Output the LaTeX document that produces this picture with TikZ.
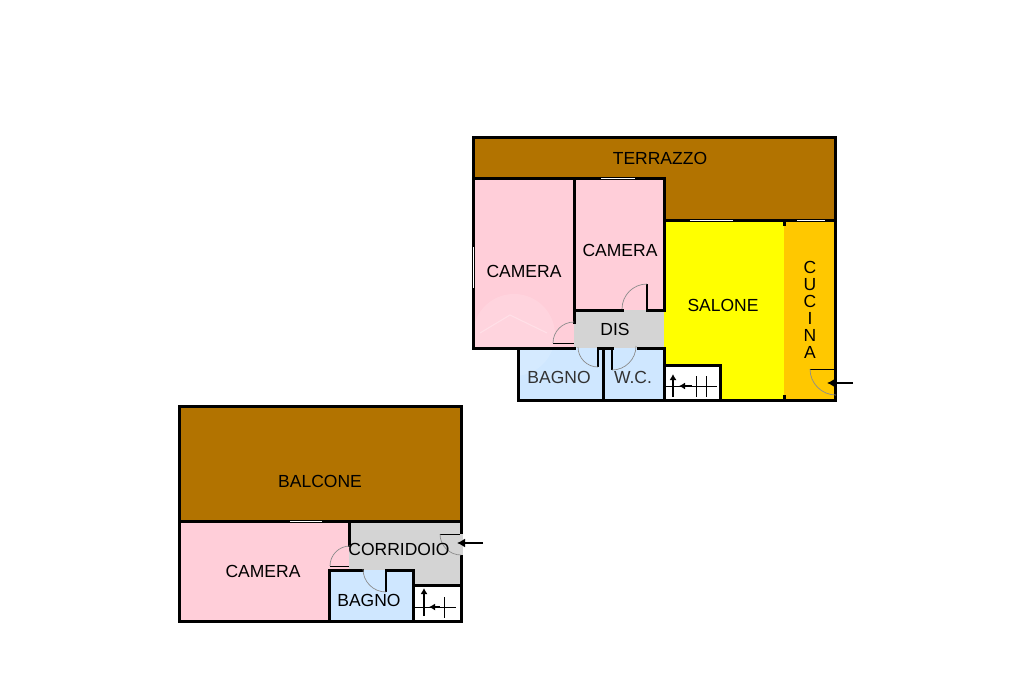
\documentclass[tikz,border=0pt]{standalone}
\usepackage{fontspec}
\setmainfont{Liberation Sans}
\usetikzlibrary{arrows.meta}
\definecolor{brownarea}{HTML}{B27300}
\definecolor{pinkroom}{HTML}{FFCED9}
\definecolor{blueroom}{HTML}{CFE7FF}
\definecolor{greyroom}{HTML}{D4D4D4}
\definecolor{orangeroom}{HTML}{FFC800}
\definecolor{yellowroom}{HTML}{FFFF00}
\definecolor{swingcolor}{HTML}{8C8C8C}
\tikzset{
  wall/.style={line width=3pt, line cap=rect},
  leaf/.style={line width=1pt},
  swing/.style={line width=0.7pt, draw=swingcolor},
  window/.style={line width=1pt, white},
  entry/.style={line width=1.5pt, -{Latex[length=8pt,width=9pt]}},
  roomlabel/.style={inner sep=0pt, font=\fontsize{17.5}{17}\selectfont, text=black},
}
\begin{document}
\begin{tikzpicture}[x=1pt, y=-1pt]
    \useasboundingbox (0,0) rectangle (1024,682);
    % upper floor, fills
    \fill[brownarea] (473,137) rectangle (835,220);
    \fill[brownarea] (473,137) rectangle (664,178);
    \fill[pinkroom] (473,178) rectangle (574,348);
    \fill[pinkroom] (574,178) rectangle (664,310);
    \fill[greyroom] (574,310) rectangle (664,348);
    \fill[blueroom] (518,348) rectangle (664,400);
    \fill[yellowroom] (664,220) rectangle (784,400);
    \fill[orangeroom] (784,220) rectangle (835,400);
    \fill[white] (664,365) rectangle (720,400);
    % watermark
    \fill[white, opacity=0.14] (514,335) circle (41);
    \draw[white, opacity=0.3, line width=1pt] (480,333) -- (510,315) -- (547,333);
    % upper floor, walls
    \draw[wall] (473,178) -- (473,137) -- (835,137) -- (835,400) -- (518,400) -- (518,348);
    \draw[wall] (473,178) -- (664,178) -- (664,310);
    \draw[wall] (473,178) -- (473,348) -- (574,348);
    \draw[wall] (574,178) -- (574,322);
    \draw[wall] (574,310) -- (622,310);
    \draw[wall] (647,310) -- (664,310);
    \draw[wall] (664,220) -- (835,220);
    \draw[wall] (664,348) -- (664,400);
    \draw[wall] (664,365) -- (720,365) -- (720,400);
    \draw[wall] (603,348) -- (603,400);
    \draw[wall] (598,348) -- (612,348);
    \draw[wall] (638,348) -- (664,348);
    \draw[wall] (784,220) -- (784,224);
    \draw[wall] (784,396) -- (784,400);
    % windows
    \draw[window] (601,178) -- (635,178);
    \draw[window] (690,220) -- (733,220);
    \draw[window] (797,220) -- (825,220);
    \draw[window] (473,247) -- (473,288);
    % upper floor, doors
    \draw[leaf] (553,343) -- (574,343);
    \draw[swing] (553,343) arc[start angle=180, end angle=270, radius=21];
    \draw[line width=2pt] (647,284) -- (647,310);
    \draw[swing] (647,284) arc[start angle=270, end angle=180, radius=25];
    \draw[line width=1.5pt] (598,348) -- (598,367);
    \draw[swing] (598,367) arc[start angle=90, end angle=180, radius=20];
    \draw[line width=1.5pt] (612,348) -- (612,370);
    \draw[swing] (612,370) arc[start angle=90, end angle=0, radius=24];
    \draw[leaf] (810,369) -- (835,369);
    \draw[swing] (810,369) arc[start angle=180, end angle=90, radius=26];
    % upper floor, stairs
    \draw[line width=1pt] (664,386) -- (717,386);
    \draw[line width=1pt] (696,376) -- (696,397);
    \draw[line width=1pt] (706,376) -- (706,397);
    \coordinate (upa) at (673,397);
    \coordinate (upb) at (673,374);
    \coordinate (upc) at (692,386);
    \coordinate (upd) at (679,386);
    \draw[line width=1.5pt, -{Latex[length=6pt,width=7pt]}] (upa) -- (upb);
    \draw[line width=1.5pt, -{Latex[length=6pt,width=7pt]}] (upc) -- (upd);
    \coordinate (kitcheno) at (853,383);
    \coordinate (kitcheni) at (827,383);
    \draw[entry] (kitcheno) -- (kitcheni);
    % upper floor, labels
    \node[roomlabel] (terrazzo) at (660,158) {TERRAZZO};
    \node[roomlabel] (camerab) at (524,271) {CAMERA};
    \node[roomlabel] (cameraa) at (620,250) {CAMERA};
    \node[roomlabel] (salone) at (723,305) {SALONE};
    \node[roomlabel] (dis) at (615,329) {DIS};
    \node[roomlabel, text=black!80] (bagnoa) at (559,377) {BAGNO};
    \node[roomlabel, text=black!80] (wc) at (633,377) {W.C.};
    \node[roomlabel, align=center] (cucina) at (810,310) {C\\U\\C\\I\\N\\A};
    % lower floor, fills
    \fill[brownarea] (179,406) rectangle (461,521);
    \fill[pinkroom] (179,521) rectangle (349,621);
    \fill[greyroom] (349,521) rectangle (461,585);
    \fill[blueroom] (329,570) rectangle (413,621);
    \fill[white] (413,585) rectangle (461,621);
    % lower floor, walls
    \draw[wall] (179,406) rectangle (461,621);
    \draw[wall] (179,521) -- (461,521);
    \draw[wall] (349,521) -- (349,545);
    \draw[wall] (329,621) -- (329,570) -- (362,570);
    \draw[wall] (386,570) -- (413,570) -- (413,621);
    \draw[wall] (413,585) -- (461,585);
    \fill[greyroom] (459,534) rectangle (463,555);
    \draw[window] (290,521) -- (322,521);
    % lower floor, doors
    \draw[leaf] (330,566) -- (349,566);
    \draw[swing] (330,566) arc[start angle=180, end angle=270, radius=20];
    \draw[line width=1.2pt] (386,570) -- (386,592);
    \draw[swing] (386,592) arc[start angle=90, end angle=180, radius=23];
    \draw[leaf] (440,534) -- (460,534);
    \draw[swing] (440,534) arc[start angle=180, end angle=90, radius=21];
    % lower floor, stairs
    \draw[line width=1pt] (413,607) -- (456,607);
    \draw[line width=1pt] (444,597) -- (444,618);
    \coordinate (dna) at (424,616);
    \coordinate (dnb) at (424,588);
    \coordinate (dnc) at (440,607);
    \coordinate (dnd) at (429,607);
    \draw[line width=1.5pt, -{Latex[length=6pt,width=7pt]}] (dna) -- (dnb);
    \draw[line width=1.5pt, -{Latex[length=6pt,width=7pt]}] (dnc) -- (dnd);
    \coordinate (corro) at (483,543);
    \coordinate (corri) at (457,543);
    \draw[entry] (corro) -- (corri);
    % lower floor, labels
    \node[roomlabel] (balcone) at (320,481) {BALCONE};
    \node[roomlabel] (camerac) at (263,571) {CAMERA};
    \node[roomlabel] (corridoio) at (399,549) {CORRIDOIO};
    \node[roomlabel] (bagnob) at (369,600) {BAGNO};
\end{tikzpicture}
\end{document}
